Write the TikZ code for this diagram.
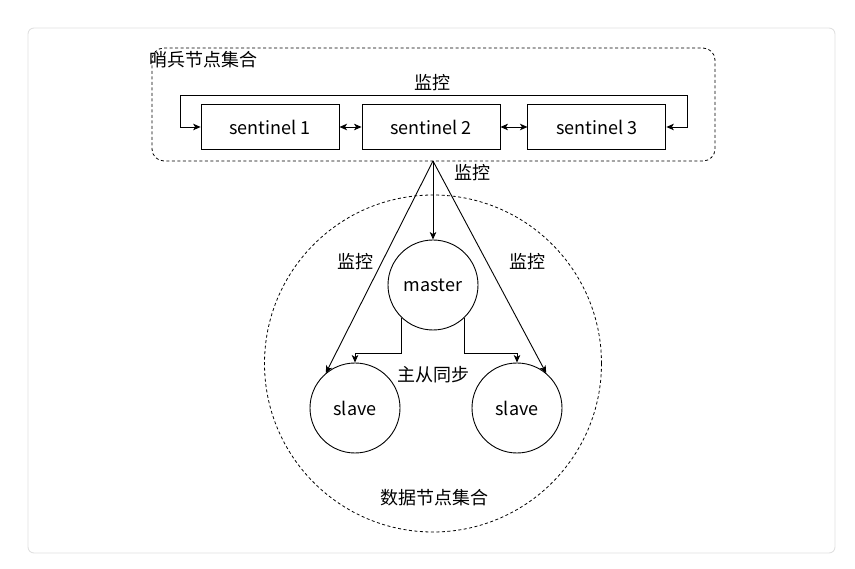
\documentclass[tikz,border=0pt]{standalone}
\usepackage{fontspec}
\setmainfont{Noto Sans CJK SC}
\usetikzlibrary{positioning,arrows.meta}

\begin{document}
\begin{tikzpicture}[x=1pt,y=-1pt,>={Stealth[length=7.5pt,width=6.5pt,inset=2pt]},line width=0.9pt,
    txt/.style={font=\fontsize{18}{21}\selectfont},
    senti/.style={txt,draw,minimum width=138pt,minimum height=45pt,inner sep=0pt},
    redis/.style={txt,draw,circle,minimum size=90pt,inner sep=0pt},
    group/.style={draw,dash pattern=on 3pt off 2.5pt,line width=0.8pt}
]
  \useasboundingbox (0,0) rectangle (855,569);
  \draw[black!12,rounded corners=6pt] (28,28) rectangle (835,553);

  % sentinel group
  \draw[group,rounded corners=12pt] (152,48) rectangle (715,161);
  \node[txt,anchor=west,inner sep=0pt] (sgname) at (149,60) {哨兵节点集合};
  \node[senti] (s2) at (431,127) {sentinel 2};
  \node[senti, left=22pt of s2] (s1) {sentinel 1};
  \node[senti, right=27pt of s2] (s3) {sentinel 3};
  \coordinate (loopl) at (180,95);
  \coordinate (loopr) at (687,95);
  \node[txt] (mon0) at (432,83) {监控};
  \draw[->] (s1.west -| loopl) -- (loopl) -- (loopr) -- (s3.east -| loopr) -- (s3.east);
  \draw[<->] (s1) -- (s2);
  \draw[<->] (s2) -- (s3);
  \draw[->] (s1.west -| loopl) -- (s1.west);

  % data group
  \draw[group] (433,363.5) circle (168.5pt);
  \node[redis] (master) at (433,285) {master};
  \node[redis] (slavel) at (355,408) {slave};
  \node[redis] (slaver) at (517,408) {slave};
  \node[txt] (dname) at (434,498) {数据节点集合};

  \coordinate (apex) at (433,161);
  \node[txt] (mon1) at (472,173) {监控};
  \node[txt] (mon2) at (355,262) {监控};
  \node[txt] (mon3) at (527,262) {监控};
  \draw[->] (apex) -- (master.north);
  \draw[->] (apex) -- (slavel.130);
  \draw[->] (apex) -- (slaver.50);

  \node[txt] (sync) at (433,375) {主从同步};
  \draw[->] (master.226) |- (slavel.north |- 0,353) -- (slavel.north);
  \draw[->] (master.314) |- (slaver.north |- 0,353) -- (slaver.north);
\end{tikzpicture}
\end{document}
